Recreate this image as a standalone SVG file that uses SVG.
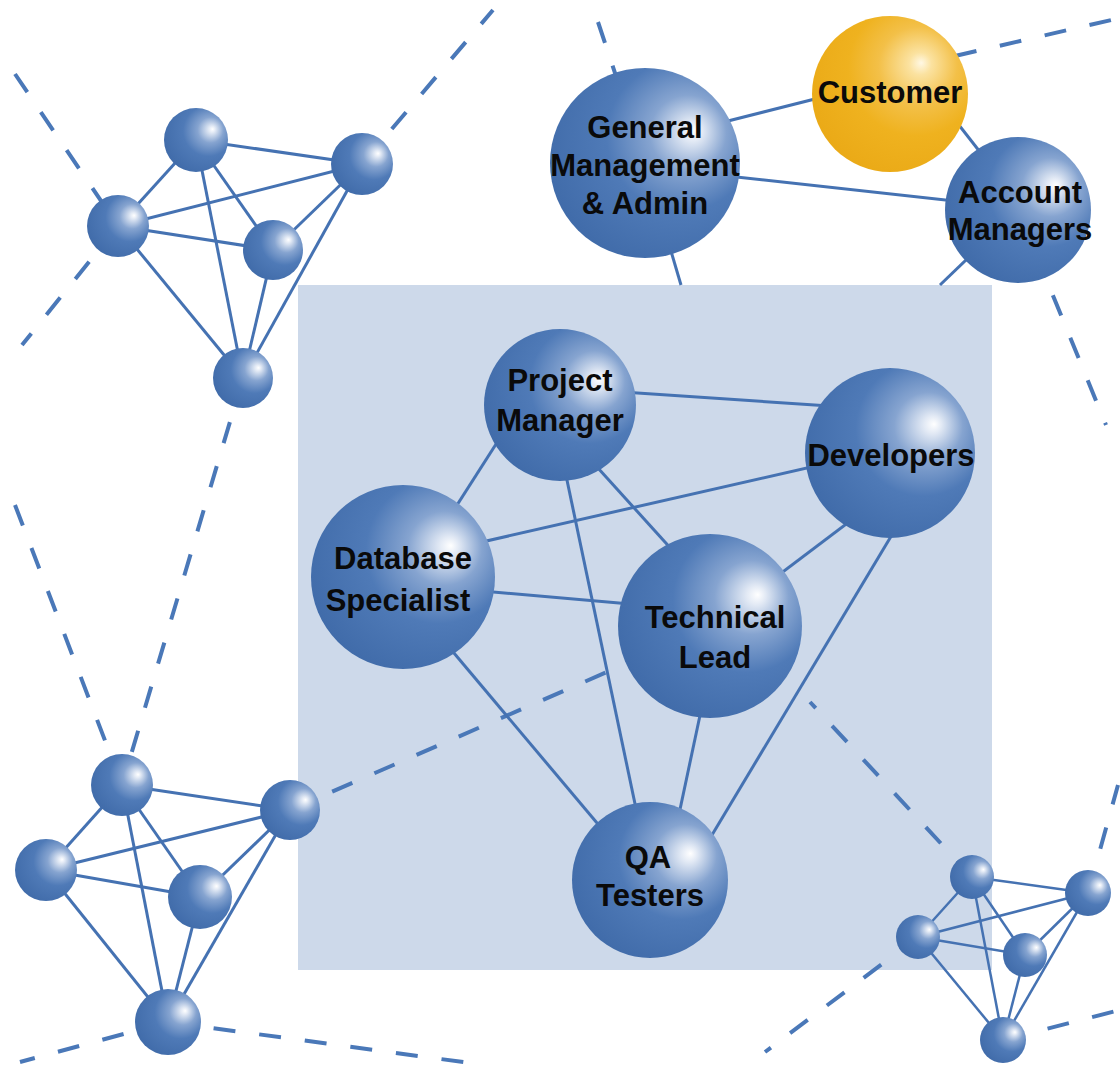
<svg xmlns="http://www.w3.org/2000/svg" width="1120" height="1065" viewBox="0 0 1120 1065">
<defs>
<radialGradient id="gBlue" cx="0.64" cy="0.38" r="0.72" fx="0.76" fy="0.33">
<stop offset="0" stop-color="#ffffff"/>
<stop offset="0.07" stop-color="#e3eaf5"/>
<stop offset="0.28" stop-color="#86a4d0"/>
<stop offset="0.55" stop-color="#4f7ab7"/>
<stop offset="1" stop-color="#3f6aa8"/>
</radialGradient>
<radialGradient id="gGold" cx="0.64" cy="0.36" r="0.72" fx="0.7" fy="0.3">
<stop offset="0" stop-color="#fff8e4"/>
<stop offset="0.1" stop-color="#fbe2a0"/>
<stop offset="0.35" stop-color="#f3c048"/>
<stop offset="0.6" stop-color="#efb21f"/>
<stop offset="1" stop-color="#eaa916"/>
</radialGradient>
<style>
.ball{fill:url(#gBlue)}
.gold{fill:url(#gGold)}
.ln{stroke:#4572b2;stroke-width:3;fill:none}
.lns{stroke:#4572b2;stroke-width:2.5;fill:none}
.dash{stroke:#4a78b8;stroke-width:4;fill:none;stroke-dasharray:22 24}
.lbl{font-family:"Liberation Sans",Arial,Helvetica,sans-serif;font-weight:bold;font-size:31px;fill:#0a0a0a;text-anchor:middle}
</style>
</defs>
<rect x="0" y="0" width="1120" height="1065" fill="#ffffff"/>
<rect id="team-area" x="298" y="285" width="694" height="685" fill="#cdd9ea"/>

<g id="connectors">
<!-- dashed links -->
<line class="dash" x1="15" y1="74" x2="118" y2="226"/>
<line class="dash" x1="118" y1="226" x2="22" y2="345"/>
<line class="dash" x1="362" y1="164" x2="493" y2="10"/>
<line class="dash" x1="243" y1="378" x2="122" y2="785"/>
<line class="dash" x1="15" y1="505" x2="122" y2="785"/>
<line class="dash" x1="290" y1="810" x2="607" y2="672"/>
<line class="dash" x1="168" y1="1022" x2="20" y2="1062"/>
<line class="dash" x1="168" y1="1022" x2="470" y2="1063"/>
<line class="dash" x1="972" y1="877" x2="810" y2="702"/>
<line class="dash" x1="918" y1="937" x2="765" y2="1052"/>
<line class="dash" x1="1088" y1="893" x2="1118" y2="785"/>
<line class="dash" x1="1003" y1="1040" x2="1120" y2="1010"/>
<line class="dash" x1="955" y1="56" x2="1120" y2="18"/>
<line class="dash" x1="1018" y1="210" x2="1106" y2="425"/>
<line class="dash" x1="598" y1="22" x2="645" y2="163"/>
<!-- top group -->
<line class="ln" x1="645" y1="142" x2="890" y2="80"/>
<line class="ln" x1="645" y1="167" x2="1018" y2="208"/>
<line class="ln" x1="955" y1="120" x2="980" y2="152"/>
<line class="ln" x1="645" y1="163" x2="681" y2="285"/>
<line class="ln" x1="1018" y1="210" x2="940" y2="285"/>
<!-- team -->
<line class="ln" x1="563" y1="388" x2="890" y2="410"/>
<line class="ln" x1="521" y1="405" x2="411" y2="577"/>
<line class="ln" x1="540" y1="404" x2="741" y2="626"/>
<line class="ln" x1="551" y1="404" x2="651" y2="880"/>
<line class="ln" x1="403" y1="560" x2="890" y2="449"/>
<line class="ln" x1="403" y1="584" x2="710" y2="611"/>
<line class="ln" x1="390" y1="577" x2="645" y2="880"/>
<line class="ln" x1="710" y1="627" x2="878" y2="500"/>
<line class="ln" x1="719" y1="626" x2="665" y2="880"/>
<line class="ln" x1="941" y1="453" x2="685" y2="880"/>
<!-- top-left cluster -->
<line class="ln" x1="196" y1="140" x2="362" y2="164"/>
<line class="ln" x1="196" y1="140" x2="118" y2="226"/>
<line class="ln" x1="196" y1="140" x2="273" y2="250"/>
<line class="ln" x1="196" y1="140" x2="243" y2="378"/>
<line class="ln" x1="362" y1="164" x2="118" y2="226"/>
<line class="ln" x1="362" y1="164" x2="273" y2="250"/>
<line class="ln" x1="362" y1="164" x2="243" y2="378"/>
<line class="ln" x1="118" y1="226" x2="273" y2="250"/>
<line class="ln" x1="118" y1="226" x2="243" y2="378"/>
<line class="ln" x1="273" y1="250" x2="243" y2="378"/>
<!-- bottom-left cluster -->
<line class="ln" x1="122" y1="785" x2="290" y2="810"/>
<line class="ln" x1="122" y1="785" x2="46" y2="870"/>
<line class="ln" x1="122" y1="785" x2="200" y2="897"/>
<line class="ln" x1="122" y1="785" x2="168" y2="1022"/>
<line class="ln" x1="290" y1="810" x2="46" y2="870"/>
<line class="ln" x1="290" y1="810" x2="200" y2="897"/>
<line class="ln" x1="290" y1="810" x2="168" y2="1022"/>
<line class="ln" x1="46" y1="870" x2="200" y2="897"/>
<line class="ln" x1="46" y1="870" x2="168" y2="1022"/>
<line class="ln" x1="200" y1="897" x2="168" y2="1022"/>
<!-- bottom-right cluster -->
<line class="lns" x1="972" y1="877" x2="1088" y2="893"/>
<line class="lns" x1="972" y1="877" x2="918" y2="937"/>
<line class="lns" x1="972" y1="877" x2="1025" y2="955"/>
<line class="lns" x1="972" y1="877" x2="1003" y2="1040"/>
<line class="lns" x1="1088" y1="893" x2="918" y2="937"/>
<line class="lns" x1="1088" y1="893" x2="1025" y2="955"/>
<line class="lns" x1="1088" y1="893" x2="1003" y2="1040"/>
<line class="lns" x1="918" y1="937" x2="1025" y2="955"/>
<line class="lns" x1="918" y1="937" x2="1003" y2="1040"/>
<line class="lns" x1="1025" y1="955" x2="1003" y2="1040"/>
</g>

<g id="node-general-management">
<circle class="ball" cx="645" cy="163" r="95"/>
<text class="lbl" x="645" y="138">General</text>
<text class="lbl" x="645" y="176">Management</text>
<text class="lbl" x="645" y="214">&amp; Admin</text>
</g>
<g id="node-customer">
<circle class="gold" cx="890" cy="94" r="78"/>
<text class="lbl" x="890" y="103">Customer</text>
</g>
<g id="node-account-managers">
<circle class="ball" cx="1018" cy="210" r="73"/>
<text class="lbl" x="1020" y="203">Account</text>
<text class="lbl" x="1020" y="240">Managers</text>
</g>
<g id="node-project-manager">
<circle class="ball" cx="560" cy="405" r="76"/>
<text class="lbl" x="560" y="391">Project</text>
<text class="lbl" x="560" y="431">Manager</text>
</g>
<g id="node-developers">
<circle class="ball" cx="890" cy="453" r="85"/>
<text class="lbl" x="891" y="466">Developers</text>
</g>
<g id="node-database-specialist">
<circle class="ball" cx="403" cy="577" r="92"/>
<text class="lbl" x="403" y="569">Database</text>
<text class="lbl" x="398" y="611">Specialist</text>
</g>
<g id="node-technical-lead">
<circle class="ball" cx="710" cy="626" r="92"/>
<text class="lbl" x="715" y="628">Technical</text>
<text class="lbl" x="715" y="668">Lead</text>
</g>
<g id="node-qa-testers">
<circle class="ball" cx="650" cy="880" r="78"/>
<text class="lbl" x="648" y="868">QA</text>
<text class="lbl" x="650" y="906">Testers</text>
</g>

<g id="cluster-top-left">
<circle id="tl-1" class="ball" cx="196" cy="140" r="32"/>
<circle id="tl-2" class="ball" cx="362" cy="164" r="31"/>
<circle id="tl-3" class="ball" cx="118" cy="226" r="31"/>
<circle id="tl-4" class="ball" cx="273" cy="250" r="30"/>
<circle id="tl-5" class="ball" cx="243" cy="378" r="30"/>
</g>
<g id="cluster-bottom-left">
<circle id="bl-1" class="ball" cx="122" cy="785" r="31"/>
<circle id="bl-2" class="ball" cx="290" cy="810" r="30"/>
<circle id="bl-3" class="ball" cx="46" cy="870" r="31"/>
<circle id="bl-4" class="ball" cx="200" cy="897" r="32"/>
<circle id="bl-5" class="ball" cx="168" cy="1022" r="33"/>
</g>
<g id="cluster-bottom-right">
<circle id="br-1" class="ball" cx="972" cy="877" r="22"/>
<circle id="br-2" class="ball" cx="1088" cy="893" r="23"/>
<circle id="br-3" class="ball" cx="918" cy="937" r="22"/>
<circle id="br-4" class="ball" cx="1025" cy="955" r="22"/>
<circle id="br-5" class="ball" cx="1003" cy="1040" r="23"/>
</g>
</svg>
